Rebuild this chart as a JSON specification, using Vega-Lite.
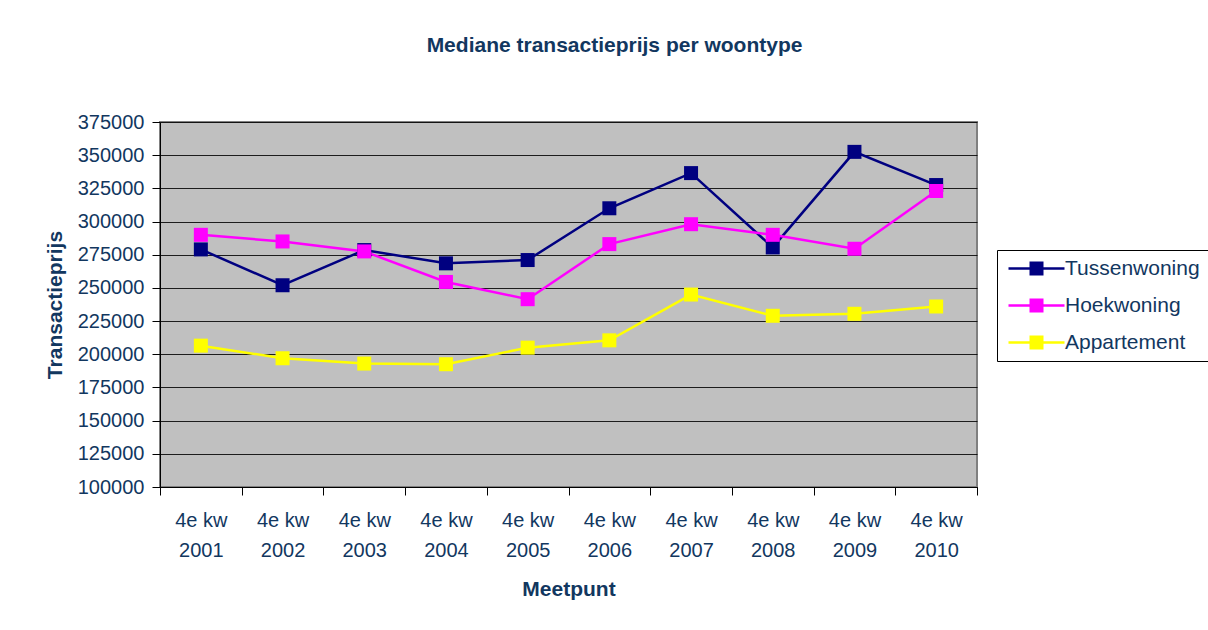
{
  "$schema": "https://vega.github.io/schema/vega-lite/v6.json",
  "width": 817,
  "height": 365,
  "autosize": {"type": "none"},
  "padding": {"left": 160, "top": 122, "right": 231, "bottom": 143},
  "background": "white",
  "config": {
    "font": "Liberation Sans",
    "view": {"stroke": "#808080", "strokeWidth": 2, "fill": "#C0C0C0"},
    "axis": {"labelFont": "Liberation Sans", "titleFont": "Liberation Sans", "labelColor": "#12375F", "titleColor": "#12375F", "domainColor": "#000000", "tickColor": "#000000"},
    "legend": {"labelFont": "Liberation Sans"}
  },
  "title": {
    "text": "Mediane transactieprijs per woontype",
    "fontSize": 21,
    "fontWeight": "bold",
    "color": "#12375F",
    "anchor": "middle",
    "dx": 46,
    "offset": 56
  },
  "data": {
    "values": [
      {"meetpunt": "4e kw 2001", "woontype": "Tussenwoning", "prijs": 279000},
      {"meetpunt": "4e kw 2002", "woontype": "Tussenwoning", "prijs": 252000},
      {"meetpunt": "4e kw 2003", "woontype": "Tussenwoning", "prijs": 278500},
      {"meetpunt": "4e kw 2004", "woontype": "Tussenwoning", "prijs": 268500},
      {"meetpunt": "4e kw 2005", "woontype": "Tussenwoning", "prijs": 271000},
      {"meetpunt": "4e kw 2006", "woontype": "Tussenwoning", "prijs": 310000},
      {"meetpunt": "4e kw 2007", "woontype": "Tussenwoning", "prijs": 336500},
      {"meetpunt": "4e kw 2008", "woontype": "Tussenwoning", "prijs": 280500},
      {"meetpunt": "4e kw 2009", "woontype": "Tussenwoning", "prijs": 352500},
      {"meetpunt": "4e kw 2010", "woontype": "Tussenwoning", "prijs": 327500},
      {"meetpunt": "4e kw 2001", "woontype": "Hoekwoning", "prijs": 290000},
      {"meetpunt": "4e kw 2002", "woontype": "Hoekwoning", "prijs": 285000},
      {"meetpunt": "4e kw 2003", "woontype": "Hoekwoning", "prijs": 277500},
      {"meetpunt": "4e kw 2004", "woontype": "Hoekwoning", "prijs": 254500},
      {"meetpunt": "4e kw 2005", "woontype": "Hoekwoning", "prijs": 241500},
      {"meetpunt": "4e kw 2006", "woontype": "Hoekwoning", "prijs": 283000},
      {"meetpunt": "4e kw 2007", "woontype": "Hoekwoning", "prijs": 298000},
      {"meetpunt": "4e kw 2008", "woontype": "Hoekwoning", "prijs": 290000},
      {"meetpunt": "4e kw 2009", "woontype": "Hoekwoning", "prijs": 279500},
      {"meetpunt": "4e kw 2010", "woontype": "Hoekwoning", "prijs": 323000},
      {"meetpunt": "4e kw 2001", "woontype": "Appartement", "prijs": 206500},
      {"meetpunt": "4e kw 2002", "woontype": "Appartement", "prijs": 197000},
      {"meetpunt": "4e kw 2003", "woontype": "Appartement", "prijs": 193000},
      {"meetpunt": "4e kw 2004", "woontype": "Appartement", "prijs": 192500},
      {"meetpunt": "4e kw 2005", "woontype": "Appartement", "prijs": 205000},
      {"meetpunt": "4e kw 2006", "woontype": "Appartement", "prijs": 210500},
      {"meetpunt": "4e kw 2007", "woontype": "Appartement", "prijs": 245000},
      {"meetpunt": "4e kw 2008", "woontype": "Appartement", "prijs": 229000},
      {"meetpunt": "4e kw 2009", "woontype": "Appartement", "prijs": 230500},
      {"meetpunt": "4e kw 2010", "woontype": "Appartement", "prijs": 236000}
    ]
  },
  "encoding": {
    "x": {
      "field": "meetpunt",
      "type": "nominal",
      "sort": null,
      "scale": {"type": "band", "paddingInner": 0, "paddingOuter": 0},
      "axis": {
        "title": "Meetpunt",
        "titleFontSize": 21,
        "titleFontWeight": "bold",
        "titlePadding": 18,
        "labelAngle": 0,
        "labelFontSize": 20,
        "labelLineHeight": 30,
        "labelPadding": 15,
        "labelExpr": "datum.label ? ['4e kw', substring(datum.label, 6)] : ''",
        "tickBand": "extent",
        "tickSize": 8,
        "domainWidth": 1,
        "grid": false
      }
    },
    "y": {
      "field": "prijs",
      "type": "quantitative",
      "scale": {"domain": [100000, 375000], "nice": false, "zero": false},
      "axis": {
        "title": "Transactieprijs",
        "titleFontSize": 21,
        "titleFontWeight": "bold",
        "titlePadding": 12,
        "values": [100000, 125000, 150000, 175000, 200000, 225000, 250000, 275000, 300000, 325000, 350000, 375000],
        "format": "d",
        "labelFontSize": 20,
        "labelPadding": 8,
        "tickSize": 8,
        "grid": true,
        "gridColor": "#000000",
        "gridOpacity": 0.85,
        "gridWidth": 1
      }
    },
    "color": {
      "field": "woontype",
      "type": "nominal",
      "sort": ["Tussenwoning", "Hoekwoning", "Appartement"],
      "scale": {"domain": ["Tussenwoning", "Hoekwoning", "Appartement"], "range": ["#000080", "#FF00FF", "#FFFF00"]},
      "legend": {
        "title": null,
        "orient": "none",
        "legendX": 837,
        "legendY": 128,
        "padding": 8,
        "strokeColor": "#000000",
        "fillColor": "#FFFFFF",
        "symbolType": "M-4,-0.18H4V0.18H-4Z M-1,-1H1V1H-1Z",
        "symbolSize": 196,
        "symbolOffset": 21,
        "symbolStrokeWidth": 0,
        "labelOffset": 18,
        "labelFontSize": 21,
        "labelColor": "#12375F",
        "rowPadding": 15
      }
    }
  },
  "layer": [
    {"mark": {"type": "line", "strokeWidth": 2.5}},
    {"mark": {"type": "point", "shape": "square", "filled": true, "size": 196, "opacity": 1}}
  ]
}
